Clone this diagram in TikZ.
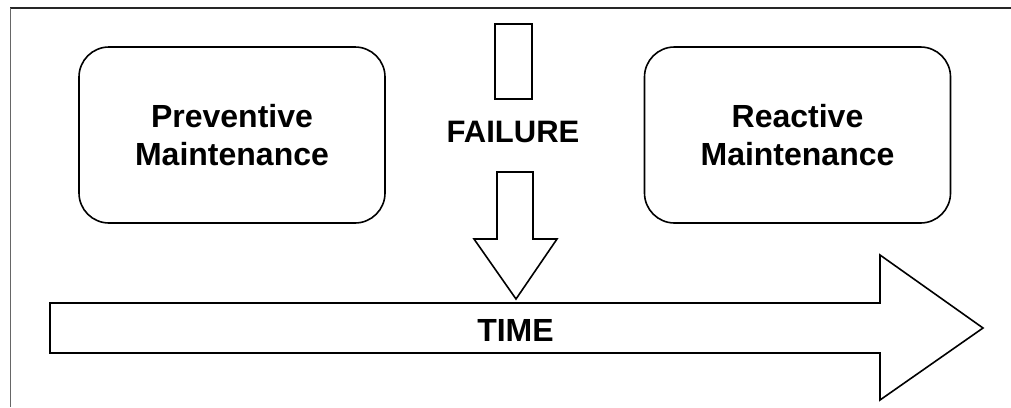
\documentclass[tikz,border=0pt]{standalone}
\usepackage{fontspec}
\setmainfont{Liberation Sans}
\begin{document}
\begin{tikzpicture}[x=1pt,y=-1pt,
  outline/.style={draw=black,line width=1.6pt,line join=miter},
  mbox/.style={outline,rounded corners=30pt,minimum width=306pt,minimum height=176pt,inner sep=0pt,
    align=center,font=\bfseries\fontsize{32}{38}\selectfont},
  label/.style={font=\bfseries\fontsize{32}{38}\selectfont,inner sep=0pt}]
\useasboundingbox (0,0) rectangle (1011,407);
% frame
\draw[line width=1.6pt,black!85] (10,8) -- (1011,8);
\draw[line width=0.9pt,black!60] (10,8) -- (10,407);
% boxes
\node[mbox] (prev) at (232,135) {Preventive\\Maintenance};
\node[mbox] (reac) at (797.5,135) {Reactive\\Maintenance};
% small rectangle
\node[outline,minimum width=37pt,minimum height=75pt,inner sep=0pt] (bar) at (513.5,61.5) {};
\node[label,font=\bfseries\fontsize{31}{37}\selectfont] (fail) at (513,132) {FAILURE};
% down arrow
\draw[outline] (497,172) -- (533,172) -- (533,239) -- (557,239) -- (516,299)
  -- (474,239) -- (497,239) -- cycle;
% time arrow
\draw[outline] (50,303) -- (880,303) -- (880,255) -- (983,328) -- (880,400)
  -- (880,353) -- (50,353) -- cycle;
\node[label] (time) at (515.5,330) {TIME};
\end{tikzpicture}
\end{document}
